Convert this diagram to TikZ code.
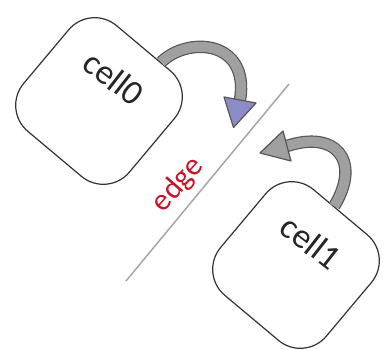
\documentclass[tikz,border=0pt]{standalone}
\usepackage{fontspec}
\setmainfont{Carlito}
\definecolor{bandfill}{RGB}{160,160,160}
\definecolor{bandline}{RGB}{85,85,85}
\definecolor{headpurple}{RGB}{140,140,200}
\definecolor{edgered}{RGB}{200,20,40}
\tikzset{
  cellbox/.style={draw=black!80, line width=1.2pt, rounded corners=34pt, minimum width=138pt, minimum height=138pt, inner sep=0pt, fill=white},
  celltext/.style={font=\fontsize{35}{35}\selectfont, text=black!85, inner sep=0pt},
  edgetext/.style={font=\fontsize{31}{31}\selectfont, text=edgered, inner sep=0pt},
  edgeline/.style={draw=black!35, line width=1.5pt},
  band/.style={draw=bandline, line width=1.2pt, double=bandfill, double distance=10pt},
  headshape/.style={draw=bandline, line width=1.2pt, line join=round}
}
\begin{document}
\begin{tikzpicture}[x=1pt,y=-1pt]
\useasboundingbox (0,0) rectangle (383,350);
% edge line
\coordinate (e1) at (126,281);
\coordinate (e2) at (289,84);
\draw[edgeline] (e1) -- (e2);
\node[edgetext, rotate=49] (et) at (178,185) {edge};
% cells
\node[cellbox, rotate=-40] (c0) at (99,101) {};
\node[celltext, rotate=-38] (t0) at (114,78) {cell0};
\node[cellbox, rotate=-40] (c1) at (296,265) {};
\node[celltext, rotate=-38] (t1) at (311,242) {cell1};
% arrow 1
\coordinate (a0e) at (240,100);
\draw[band] (c0.72) .. controls (188,36) and (250,40) .. (a0e);
\filldraw[headshape, fill=headpurple] (224,97) -- (233.5,127.5) -- (256,103) -- cycle;
% arrow 2
\coordinate (a1e) at (287,146);
\draw[band] (c1.97) .. controls (362,160) and (335,130) .. (a1e);
\filldraw[headshape, fill=bandfill] (291,161) -- (260,153) -- (283,131) -- cycle;
\end{tikzpicture}
\end{document}
